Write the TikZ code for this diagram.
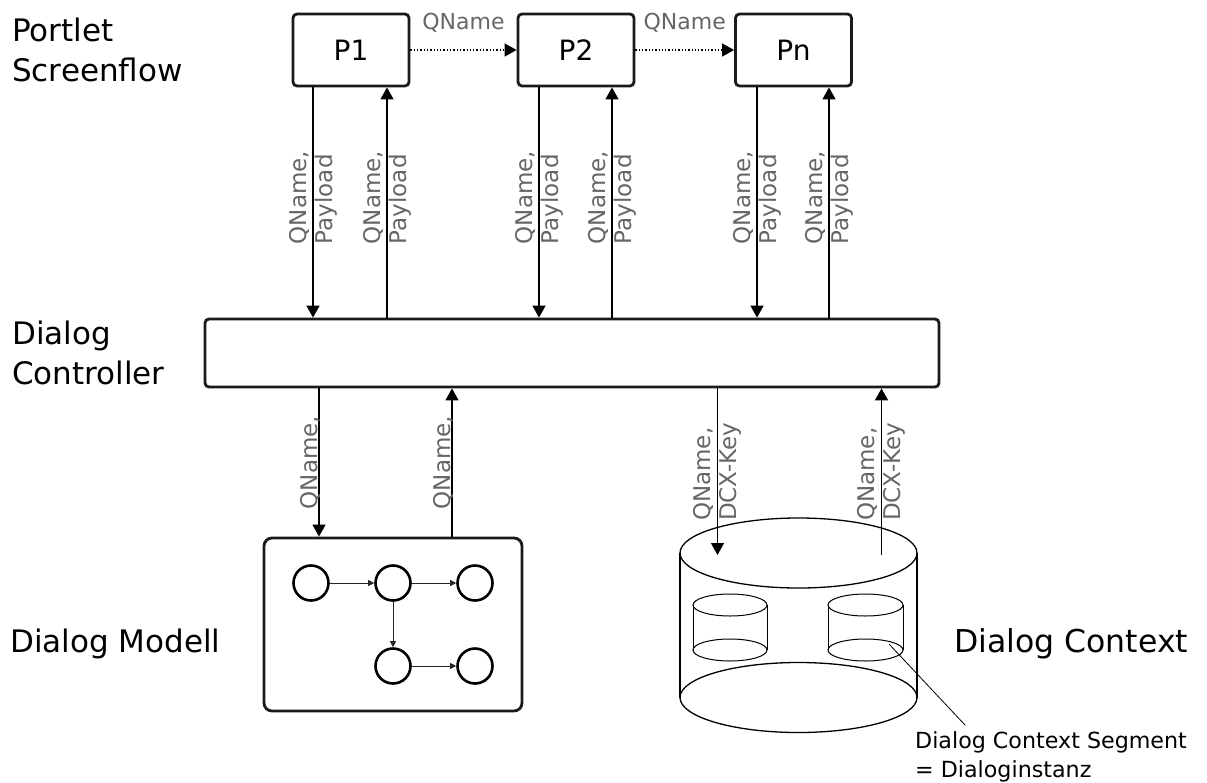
\documentclass[tikz,border=0pt]{standalone}
\usepackage{fontspec}
\setmainfont{DejaVu Sans}
\usetikzlibrary{arrows.meta}
\definecolor{lblgray}{HTML}{666666}
\definecolor{boxline}{HTML}{1A1A1A}
\begin{document}
\begin{tikzpicture}[x=1pt,y=-1pt,
  pbox/.style={draw=boxline, line width=2.8pt, rounded corners=4pt, minimum width=116pt, minimum height=72pt, inner sep=0pt, font=\fontsize{28}{33}\selectfont},
  bigbox/.style={draw=boxline, line width=2.8pt, rounded corners=4pt, inner sep=0pt},
  flow/.style={line width=1.3pt, -{Triangle[length=12pt,width=13pt]}},
  qflow/.style={line width=1.3pt, dotted, -{Triangle[length=12pt,width=13pt]}},
  small/.style={line width=1pt, black!85, -{Triangle[length=6pt,width=6pt]}},
  state/.style={circle, draw=black, line width=2.6pt, minimum size=35pt, inner sep=0pt},
  vlbl/.style={rotate=90, align=left, text=lblgray, font=\fontsize{23}{26}\selectfont, inner sep=0pt, anchor=center},
  slbl/.style={rotate=90, anchor=base, text=lblgray, font=\fontsize{23}{26}\selectfont, inner sep=0pt},
  hlbl/.style={text=lblgray, font=\fontsize{22}{26}\selectfont, inner sep=0pt},
  title/.style={align=left, font=\fontsize{31}{40}\selectfont, inner sep=0pt, text=black},
  cyl/.style={line width=1.3pt, black}
]
\path[use as bounding box] (0,0) rectangle (1207,782);

% left titles
\node[title, anchor=west] (tps) at (12,50.2) {Portlet\\Screenflow};
\node[title, anchor=west] (tdc) at (12,353.2) {Dialog\\Controller};
\node[title, anchor=base west] (tdm) at (10,652) {Dialog Modell};
\node[title, anchor=base west, font=\fontsize{31.5}{40}\selectfont] (tctx) at (954,652) {Dialog Context};

% portlets
\node[pbox] (p1) at (351,50) {P1};
\node[pbox] (p2) at (576,50) {P2};
\node[pbox] (pn) at (793.5,50) {Pn};

\draw[qflow] (p1) -- node[hlbl, above=17pt] {QName} (p2);
\draw[qflow] (p2) -- node[hlbl, above=17pt] {QName} (pn);

% dialog controller
\node[bigbox, minimum width=734pt, minimum height=68pt] (dc) at (572,353) {};

% x positions of connectors
\coordinate (a1) at (313,0);
\coordinate (a2) at (387,0);
\coordinate (a3) at (539,0);
\coordinate (a4) at (612,0);
\coordinate (a5) at (757,0);
\coordinate (a6) at (829,0);

\draw[flow] (a1 |- p1.south) -- node[yshift=5pt, vlbl] {QName,\\Payload} (a1 |- dc.north);
\draw[flow] (a2 |- dc.north) -- node[yshift=5pt, vlbl] {QName,\\Payload} (a2 |- p1.south);
\draw[flow] (a3 |- p2.south) -- node[yshift=5pt, vlbl] {QName,\\Payload} (a3 |- dc.north);
\draw[flow] (a4 |- dc.north) -- node[yshift=5pt, vlbl] {QName,\\Payload} (a4 |- p2.south);
\draw[flow] (a5 |- pn.south) -- node[yshift=5pt, vlbl] {QName,\\Payload} (a5 |- dc.north);
\draw[flow] (a6 |- dc.north) -- node[yshift=5pt, vlbl] {QName,\\Payload} (a6 |- pn.south);

% dialog modell
\node[draw=boxline, line width=2.8pt, rounded corners=8pt, minimum width=258pt, minimum height=173pt, inner sep=0pt] (dm) at (393,624.5) {};
\node[state] (m1) at (311,583) {};
\node[state] (m2) at (393,583) {};
\node[state] (m3) at (475,583) {};
\node[state] (m4) at (393,666) {};
\node[state] (m5) at (475,666) {};
\draw[small] (m1) -- (m2);
\draw[small] (m2) -- (m3);
\draw[small] (m2) -- (m4);
\draw[small] (m4) -- (m5);

\coordinate (b1) at (319,0);
\coordinate (b2) at (452,0);
\coordinate (b3) at (717.5,0);
\coordinate (b4) at (881.5,0);

\draw[flow] (b1 |- dc.south) -- node[xshift=-1.5pt, slbl] {QName,} (b1 |- dm.north);
\draw[flow] (b2 |- dm.north) -- node[xshift=-1.5pt, slbl] {QName,} (b2 |- dc.south);

% dialog context cylinder
\coordinate (ctxin) at (717.5,555);
\coordinate (ctxout) at (881.5,555);
\draw[cyl] (680,553) -- (680,697.5);
\draw[cyl] (917,553) -- (917,697.5);
\draw[cyl] (798.5,553) ellipse [x radius=118.5, y radius=35];
\draw[cyl] (798.5,697.5) ellipse [x radius=118.5, y radius=35];
% inner segments
\draw[cyl, line width=1pt] (693,605) -- (693,650) (767,605) -- (767,650);
\draw[cyl, line width=1pt] (730,605) ellipse [x radius=37, y radius=11];
\draw[cyl, line width=1pt] (730,650) ellipse [x radius=37, y radius=11];
\draw[cyl, line width=1pt] (828,605) -- (828,650) (903,605) -- (903,650);
\draw[cyl, line width=1pt] (865.5,605) ellipse [x radius=37.5, y radius=11];
\draw[cyl, line width=1pt] (865.5,650) ellipse [x radius=37.5, y radius=11];

\draw[flow] (b3 |- dc.south) -- node[vlbl] {QName,\\DCX-Key} (ctxin);
\draw[flow] (ctxout) -- node[vlbl] {QName,\\DCX-Key} (b4 |- dc.south);

% segment annotation
\node[align=left, font=\fontsize{22.2}{29}\selectfont, inner sep=0pt, anchor=west] (seg) at (915,756.7) {Dialog Context Segment\\= Dialoginstanz};
\coordinate (segpt) at (889,644);
\coordinate (segend) at (965,725);
\draw[line width=0.8pt] (segpt) -- (segend);
\end{tikzpicture}
\end{document}
